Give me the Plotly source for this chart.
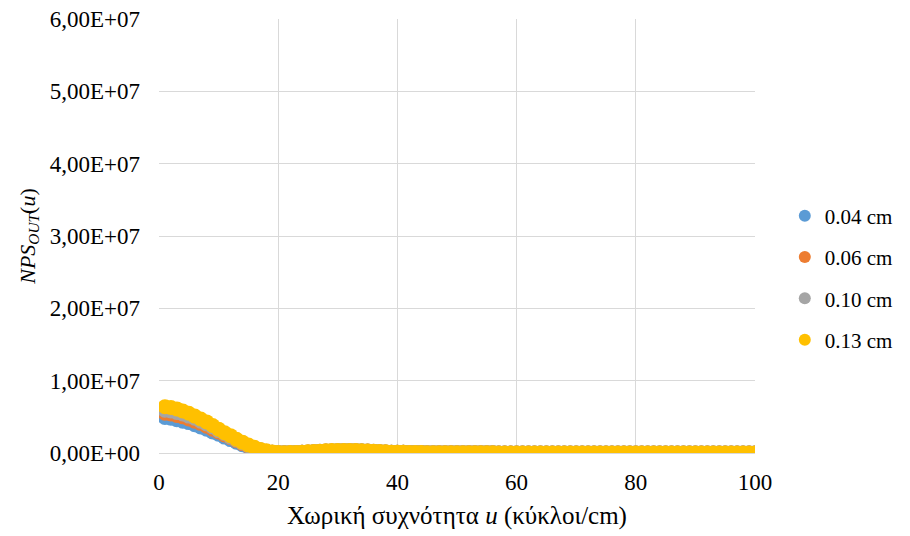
import plotly.graph_objects as go

u = list(range(1, 101))

tail = [0.09, 0.08, 0.07, 0.06, 0.05, 0.05, 0.04, 0.04, 0.03, 0.03,
        0.03, 0.02, 0.02, 0.02, 0.02, 0.02, 0.01, 0.01, 0.01, 0.01,
        0.01, 0.01, 0.01, 0.01, 0.01, 0.01, 0.01, 0.01, 0.01, 0.01,
        0.01, 0.01, 0.01, 0.01, 0.01, 0.01, 0.01, 0.01, 0.01, 0.01,
        0.01, 0.01, 0.01, 0.01, 0.01, 0.01, 0.01, 0.01, 0.01, 0.01,
        0.01, 0.01, 0.01, 0.01, 0.01, 0.01, 0.01, 0.01, 0.01, 0.01]

# values in units of 1e6
s004 = [4.9, 4.8, 4.6, 4.4, 4.2, 3.9, 3.6, 3.3, 2.9, 2.6,
        2.2, 1.85, 1.5, 1.15, 0.85, 0.58, 0.35, 0.2, 0.09, 0.04,
        0.03, 0.04, 0.06, 0.09, 0.12, 0.16, 0.2, 0.24, 0.27, 0.29,
        0.3, 0.3, 0.29, 0.27, 0.24, 0.2, 0.17, 0.14, 0.11, 0.1] + tail
s006 = [5.5, 5.4, 5.2, 5.0, 4.7, 4.4, 4.1, 3.7, 3.3, 2.9,
        2.5, 2.1, 1.7, 1.3, 0.95, 0.65, 0.4, 0.22, 0.1, 0.05,
        0.04, 0.05, 0.07, 0.1, 0.14, 0.18, 0.22, 0.26, 0.29, 0.31,
        0.32, 0.32, 0.31, 0.29, 0.26, 0.22, 0.18, 0.15, 0.12, 0.1] + tail
s010 = [5.9, 5.8, 5.6, 5.4, 5.1, 4.8, 4.4, 4.0, 3.6, 3.1,
        2.7, 2.2, 1.8, 1.4, 1.0, 0.7, 0.45, 0.25, 0.12, 0.06,
        0.05, 0.06, 0.08, 0.11, 0.15, 0.19, 0.24, 0.28, 0.31, 0.33,
        0.34, 0.34, 0.33, 0.3, 0.27, 0.23, 0.19, 0.15, 0.12, 0.1] + tail
s013 = [6.4, 6.3, 6.1, 5.8, 5.5, 5.1, 4.7, 4.3, 3.8, 3.3,
        2.8, 2.4, 1.9, 1.5, 1.1, 0.8, 0.5, 0.3, 0.15, 0.07,
        0.05, 0.06, 0.08, 0.12, 0.16, 0.2, 0.25, 0.3, 0.33, 0.35,
        0.36, 0.36, 0.35, 0.32, 0.28, 0.24, 0.2, 0.16, 0.12, 0.1] + tail

names = ["0.04 cm", "0.06 cm", "0.10 cm", "0.13 cm"]
series = [s004, s006, s010, s013]
colors = ["#5B9BD5", "#ED7D31", "#A5A5A5", "#FFC000"]

yticks = [0, 1e7, 2e7, 3e7, 4e7, 5e7, 6e7]
ytext = ["0,00E+00", "1,00E+07", "2,00E+07", "3,00E+07", "4,00E+07", "5,00E+07", "6,00E+07"]
xticks = [0, 20, 40, 60, 80, 100]

fig = go.Figure()
for i, (n, s, c) in enumerate(zip(names, series, colors)):
    fig.add_trace(go.Scatter(
        x=u, y=[v * 1e6 for v in s], mode="markers", name=n,
        legendgroup=str(i),
        marker=dict(color=c, size=15, line=dict(width=0)),
    ))

font = "Liberation Serif"
fig.update_layout(
    width=902, height=528,
    margin=dict(l=151, r=155, t=11, b=83),
    paper_bgcolor="white", plot_bgcolor="white",
    font=dict(family=font, color="black", size=23),
    showlegend=True,
    legend=dict(x=1.05, y=0.403, xanchor="left", yanchor="middle",
                font=dict(size=21, family=font, color="black"),
                itemsizing="constant", tracegroupgap=11, itemwidth=30),
    xaxis=dict(range=[0, 100], tickvals=xticks, showgrid=True,
               gridcolor="#D9D9D9", gridwidth=1, zeroline=False,
               showline=True, linecolor="#D9D9D9", ticks="",
               automargin=False, ticklabelstandoff=8,
               ticklabeloverflow="allow",
               tickfont=dict(size=23, family=font, color="black"),
               title=dict(text="Χωρική συχνότητα <i>u</i> (κύκλοι/cm)",
                          font=dict(size=25, family=font, color="black"),
                          standoff=12)),
    yaxis=dict(range=[0, 6e7], tickvals=yticks, ticktext=ytext, showgrid=True,
               gridcolor="#D9D9D9", gridwidth=1, zeroline=False,
               showline=False, ticks="",
               automargin=False, ticklabelstandoff=18,
               ticklabeloverflow="allow",
               tickfont=dict(size=23, family=font, color="black"),
               title=dict(text="<i>NPS<sub>OUT</sub></i>(<i>u</i>)",
                          font=dict(size=22, family=font, color="black"),
                          standoff=8)),
)

fig.write_html("out.html")
